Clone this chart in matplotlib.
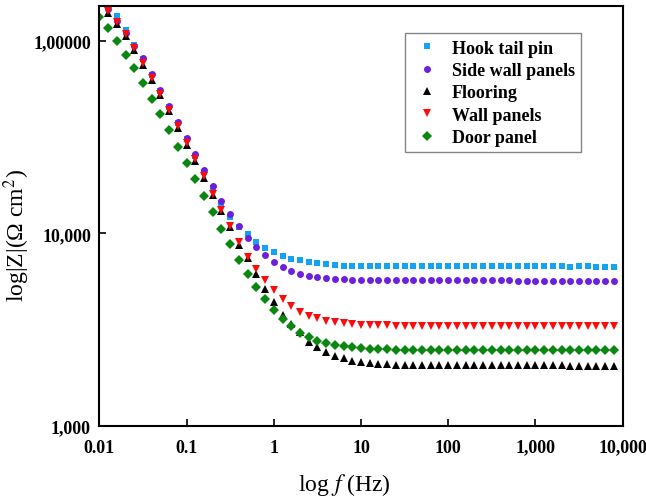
import matplotlib
matplotlib.use("Agg")
import matplotlib.pyplot as plt
from matplotlib.ticker import FixedLocator, FixedFormatter, NullLocator

plt.rcParams['font.family'] = ['Liberation Serif', 'DejaVu Serif']
plt.rcParams['mathtext.fontset'] = 'stix'

# frequency (Hz)
freq = [0.01, 0.0126, 0.0158, 0.02, 0.0251, 0.0316, 0.0398, 0.0501, 0.0631, 0.0794,
        0.1, 0.126, 0.158, 0.2, 0.251, 0.316, 0.398, 0.501, 0.631, 0.794,
        1, 1.26, 1.58, 2, 2.51, 3.16, 3.98, 5.01, 6.31, 7.94,
        10, 12.6, 15.8, 20, 25.1, 31.6, 39.8, 50.1, 63.1, 79.4,
        100, 126, 158, 200, 251, 316, 398, 501, 631, 794,
        1000, 1260, 1580, 2000, 2510, 3160, 3980, 5010, 6310, 7940]

# |Z| (Ohm cm^2)
hook_tail_pin = [183500, 159000, 135300, 114400, 95400, 80000, 66450, 54870, 45330, 37430,
                 30730, 25230, 20830, 17110, 14300, 12170, 10800, 9870, 9060, 8420,
                 7980, 7630, 7400, 7235, 7080, 7020, 6935, 6853, 6812, 6797,
                 6790, 6785, 6780, 6780, 6775, 6770, 6770, 6765, 6760, 6760,
                 6760, 6755, 6755, 6750, 6750, 6750, 6745, 6745, 6740, 6740,
                 6740, 6740, 6735, 6735, 6700, 6735, 6735, 6730, 6730, 6730]
side_wall_panels = [166700, 146200, 126700, 109800, 94000, 81100, 67500, 55700, 46000, 38000,
                    31300, 25800, 21300, 17700, 14790, 12610, 10890, 9480, 8470, 7700,
                    7080, 6670, 6400, 6150, 6030, 5920, 5850, 5800, 5780, 5750,
                    5730, 5730, 5725, 5720, 5720, 5715, 5715, 5710, 5710, 5705,
                    5705, 5700, 5700, 5700, 5700, 5695, 5695, 5695, 5690, 5690,
                    5690, 5690, 5690, 5685, 5685, 5685, 5685, 5685, 5680, 5680]
flooring = [160000, 139600, 122500, 106400, 89800, 75300, 62700, 52000, 43000, 35400,
            28900, 23800, 19400, 15800, 13060, 10760, 8710, 7430, 6190, 5160,
            4390, 3760, 3390, 3066, 2740, 2560, 2415, 2317, 2246, 2183,
            2142, 2123, 2106, 2094, 2085, 2080, 2078, 2075, 2073, 2072,
            2070, 2070, 2068, 2068, 2066, 2066, 2065, 2065, 2064, 2064,
            2063, 2063, 2062, 2062, 2061, 2061, 2060, 2060, 2060, 2060]
wall_panels = [163000, 142200, 124700, 108400, 91400, 76700, 63800, 53000, 43800, 36000,
               29400, 24200, 19800, 16100, 13300, 10960, 8990, 7570, 6530, 5730,
               5080, 4560, 4190, 3930, 3740, 3620, 3520, 3450, 3410, 3390,
               3360, 3340, 3330, 3327, 3320, 3318, 3316, 3314, 3312, 3310,
               3310, 3308, 3306, 3305, 3304, 3303, 3302, 3301, 3300, 3300,
               3300, 3299, 3298, 3297, 3296, 3295, 3295, 3294, 3294, 3293]
door_panel = [133400, 116100, 100000, 84700, 71900, 60100, 50000, 41500, 34300, 28200,
              23200, 19100, 15700, 12900, 10600, 8810, 7290, 6150, 5250, 4560,
              4020, 3600, 3290, 3050, 2890, 2770, 2700, 2640, 2590, 2560,
              2540, 2520, 2510, 2500, 2495, 2490, 2487, 2485, 2484, 2483,
              2482, 2481, 2480, 2480, 2479, 2479, 2478, 2478, 2477, 2477,
              2476, 2476, 2475, 2475, 2475, 2474, 2474, 2474, 2473, 2473]

series_labels = ["Hook tail pin", "Side wall panels", "Flooring", "Wall panels", "Door panel"]

x_ticks = [0.01, 0.1, 1, 10, 100, 1000, 10000]
x_tick_labels = ["0.01", "0.1", "1", "10", "100", "1,000", "10,000"]
y_ticks = [1000, 10000, 100000]
y_tick_labels = ["1,000", "10,000", "1,00000"]

fig = plt.figure(figsize=(6.46, 5.02), dpi=100)
ax = fig.add_axes([0.1537, 0.1494, 0.8102, 0.836])

styles = [
    dict(marker='s', color='#14a2f2', ms=4.3),
    dict(marker='o', color='#6c1fdc', ms=5.0),
    dict(marker='^', color='#000000', ms=5.5),
    dict(marker='v', color='#ff0a0a', ms=5.5),
    dict(marker='D', color='#0a870f', ms=4.6),
]
data = [hook_tail_pin, side_wall_panels, flooring, wall_panels, door_panel]
for vals, lab, st in zip(data, series_labels, styles):
    ax.plot(freq, vals, linestyle='none', marker=st['marker'], color=st['color'],
            markersize=st['ms'], markeredgewidth=0, label=lab)

ax.set_xscale('log')
ax.set_yscale('log')
ax.set_xlim(0.01, 10000)
ax.set_ylim(1000, 151000)

ax.xaxis.set_major_locator(FixedLocator(x_ticks))
ax.xaxis.set_major_formatter(FixedFormatter(x_tick_labels))
ax.xaxis.set_minor_locator(NullLocator())
ax.yaxis.set_major_locator(FixedLocator(y_ticks))
ax.yaxis.set_major_formatter(FixedFormatter(y_tick_labels))
ax.yaxis.set_minor_locator(NullLocator())

ax.tick_params(axis='both', which='major', direction='in', length=5, width=1.2,
               labelsize=13)
ax.tick_params(axis='x', pad=9)
ax.tick_params(axis='y', pad=6)
for lbl in ax.get_xticklabels() + ax.get_yticklabels():
    lbl.set_fontweight('bold')

for sp in ax.spines.values():
    sp.set_linewidth(1.5)

ax.set_xlabel('log $f$ (Hz)', fontsize=17)
ax.set_ylabel('log|Z|(Ω cm$^{2}$)', fontsize=17)
ax.xaxis.set_label_coords(0.469, -0.107)
ax.yaxis.set_label_coords(-0.129, 0.457)

leg = ax.legend(loc='upper left', bbox_to_anchor=(0.584, 0.936), borderaxespad=0,
                numpoints=1, handlelength=1.75, handletextpad=0.5, labelspacing=0.3,
                borderpad=0.35, frameon=True, fancybox=False,
                prop={'family': 'Liberation Serif', 'weight': 'bold', 'size': 13})
leg.get_frame().set_edgecolor('#666666')
leg.get_frame().set_linewidth(1.0)

fig.savefig('out.png', dpi=100)
